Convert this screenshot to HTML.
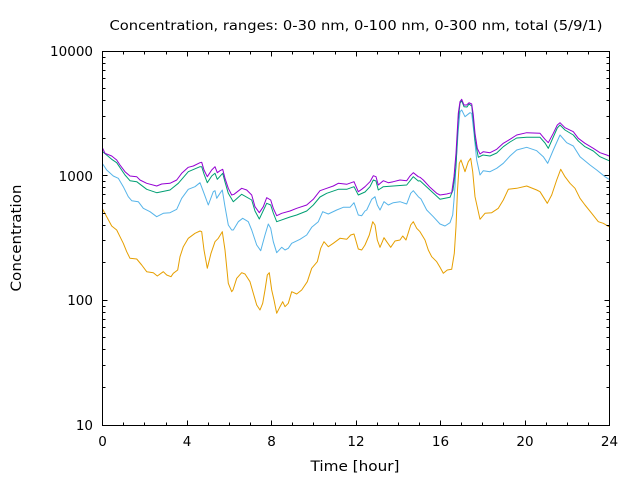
<!DOCTYPE html>
<html><head><meta charset="utf-8"><style>
html,body{margin:0;padding:0;background:#fff;}
svg{display:block;}
text{font-family:"DejaVu Sans","Liberation Sans",sans-serif;fill:#000;}
</style></head><body>
<svg width="640" height="480" viewBox="0 0 640 480" xmlns="http://www.w3.org/2000/svg">
<rect width="640" height="480" fill="#fff"/>
<text x="356" y="30" font-size="13" text-anchor="middle" textLength="493" lengthAdjust="spacingAndGlyphs">Concentration, ranges: 0-30 nm, 0-100 nm, 0-300 nm, total (5/9/1)</text>
<g fill="none" stroke-width="1" stroke-linejoin="round">
<polyline stroke="#e69f00" points="102.7,209.3 106.7,216.7 111.7,226 116.7,230 120,236.7 123.3,243.3 126.7,251.7 130,258.3 136.7,259 141.7,265 146.7,271.7 153.3,272.7 157.3,276 163.3,271.7 166.7,275 171,276.7 173.3,273.3 177.7,270 180,256.7 183.3,246.7 188.3,238.3 195,233.3 200,231 201.7,231.7 204,250 207.3,268.3 211,253.3 215,241.7 218.3,238.3 222.3,231.7 225,250 228.3,283.3 231.7,291.7 233,290 236.7,278.3 241.7,272.7 245,274 250,281.7 253.3,293.3 256.7,305 260,310 262.7,303.3 265,290 267.3,275 269.3,272.7 271.7,290 274,300 276.7,313.3 280,306.7 282.7,301.7 285,306.7 288.3,303.3 291.7,291.7 296.7,294 301.7,290 307.3,281.7 311.7,268.3 317.3,261.7 320.7,248.3 324,241.7 328.3,246.7 333.3,243.3 340,238.3 346.7,239.3 350.7,235 354,234 358.3,249 361.7,250 365,245 369.3,235 372.7,221.7 375,225 377.3,240 380,247.3 384,237.7 386.7,241.7 390.7,247.3 395,241 400,240 402.7,236 406,240 410.7,225 413.3,221.7 416.7,228.3 420,231.7 425,240 428.3,250 431.7,256.7 436.7,261.7 440,267.3 443.3,273.3 447.3,270 451.7,269.3 454.3,253.3 456,226.7 457.5,190 459.3,163.3 461,160 465,171.7 468.3,161.7 470.7,158.3 472.7,171.7 475,196.7 480,219.3 485,213.3 491.7,212.7 498.3,208.3 503.3,200 508.3,189.3 516.7,188.3 526.7,186 536.7,190 540,191.7 547.3,203.3 551.7,195 556.7,180 560.7,169.3 565,176.7 570,183.3 575,188.3 580,198.3 585,205 591.7,213.3 598.3,221.7 603.3,223.3 609,226.7"/>
<polyline stroke="#56b4e9" points="102.7,164 106.7,170 113.3,176 118.3,178.3 123.3,186.7 128.3,196.7 131.7,200.7 138.3,201.7 143.3,208.3 150,211.7 156.7,216.7 163.3,213.3 170,212.7 176.7,209.3 181.7,198.3 188.3,189.3 195,186.7 200,182.7 204,193.3 208.3,205 213.3,191.7 215,190.7 216.7,198.3 220,193.3 222.3,190 225,206.7 228.3,225 231.7,230 233.3,230 238.3,221.7 242.7,218.3 248.3,221.7 251.7,230 256.7,245 260.7,250.7 265,235 268.3,224 270.7,228.3 273.3,241.7 276.7,252.7 281.7,247.3 285,250 288.3,248.3 291.7,243.3 300,239.3 306.7,235 311.7,227.3 318.3,221.7 322.7,211.7 328.3,214 336.7,210 343.3,207.3 350,207.3 354,202.7 358.3,215 361.7,215.7 365,211 366.7,210 371.7,199.3 375,196.7 377.3,205 380,210 384,201.7 388.3,205 393.3,202.7 400,201.7 406.7,204 410.7,193.3 413.3,190.7 418.3,196.7 421,199 426.7,210 433.3,216.7 440,224 445,226 450,222.7 452.7,215 454,200 455,186.7 456,163.3 458.3,130 460,111.7 461.7,110 465,116.7 470,112.7 471.7,113.3 474,133.3 476.7,160 480,175 483.3,170.7 490,171.7 496.7,168.3 503.3,163.3 510,156 516.7,150 526.7,147.3 536.7,150.7 543.3,156.7 547.7,163.3 553.3,150 560,135 566.7,142.7 573.3,146 580,156.7 590,165 596.7,170 605,176.7 609,179.3"/>
<polyline stroke="#009e73" points="102.7,151.7 111.7,159.3 116.7,162.7 125,175 130,180.7 136.7,181.7 146.7,189.3 156.7,192.7 170,190 178.3,183.3 188.3,171.7 200,166.7 201.7,166.7 204,174 207.3,182.7 211.7,176 215,173.3 217.3,179.3 222.7,173.3 225,182 228.3,193.3 233.3,201.7 241.7,194.3 251.7,200 255,211 259.3,219 266.7,203.3 270.7,205 273.3,213 276.7,221.7 290,217 296.7,215 306.7,211 313.3,205 320,197 326.7,193.3 338.3,189.3 346.7,189.3 354,186.7 358.3,195 365,192 370,186.7 373.3,180 376,181 378.3,190 383.3,186.7 393.3,186 406.7,185 413.3,176.7 418.3,181 420,180.7 430,190 440,199.3 450,197.3 453,190 456,166.7 458.3,120 460,103.3 461.7,100.7 464,106.7 467,107 469,104 471.7,106 473.3,120 475,140 478.3,157.3 483,155 490,156 496.7,153 503.3,146.7 510,142 516.7,138 526.7,137.3 540,137.3 545,143 548.3,148.3 553.3,137 557.3,128 560,125 565,130 573.3,135 578.3,141 585,146.7 593.3,151 600,156.7 609,160.7"/>
<polyline stroke="#9400d3" points="102.7,148.3 105,153.3 111.7,156 116.7,160 120,165 125,171.7 130,176 136.7,176.7 140,180 146.7,183.3 156.7,186 161.7,184 170,183.3 176.7,180 181.7,173.3 188.3,167.3 193.3,166 200,162.7 201.7,162.3 204,170 207.3,176.7 211.7,170 215,166.7 217.3,172.7 220,170.7 222.7,169.3 225,178.3 228.3,188.3 231.7,195 234,194.3 241.7,188.3 246.7,190 251.7,195 255,206.7 259.3,212.7 263.3,206.7 266.7,197.7 270.7,200 273.3,208.3 276.7,215.7 281.7,213.3 290,211 296.7,208.3 306.7,205 313.3,199.3 320,190.7 326.7,188.3 333.3,186 338.3,183.3 346.7,184.3 354,181.7 358.3,191.7 361.7,189.3 365,186.7 370,181.7 373.3,175.7 376,176.7 378.3,185 383.3,180.7 388.3,182.7 393.3,181.7 400,180 406.7,180.7 410,176 413.3,172.7 418.3,176.7 420,177.3 423.3,180 430,187.3 436.7,193.3 440,195 446.7,194 451.7,192.7 454,176.7 456,153.3 458.3,113.3 460,101.7 461.7,99.3 464,105 466.7,105 469,102.7 471.7,104 473.3,115 475,133.3 477.3,148.3 480,154 483.3,151.7 490,152.7 496.7,149.3 503.3,143.3 510,139.3 516.7,135 526.7,132.7 540,133.3 545,139.3 548.3,142.7 553.3,133.3 557.3,125 560,122.7 565,127.7 573.3,131.7 578.3,138.3 585,143.3 593.3,148.3 600,152.7 606.7,155 609,156"/>
</g>
<g stroke="#000" stroke-width="1" fill="none">
<rect x="102.5" y="51.5" width="507" height="374"/>
<path d="M187.5,425.5v-5M271.5,425.5v-5M356.5,425.5v-5M440.5,425.5v-5M525.5,425.5v-5
M187.5,51.5v5M271.5,51.5v5M356.5,51.5v5M440.5,51.5v5M525.5,51.5v5
M123.5,425.5v-3M144.5,425.5v-3M166.5,425.5v-3M208.5,425.5v-3M229.5,425.5v-3M250.5,425.5v-3M292.5,425.5v-3M313.5,425.5v-3M335.5,425.5v-3M377.5,425.5v-3M398.5,425.5v-3M419.5,425.5v-3M461.5,425.5v-3M482.5,425.5v-3M503.5,425.5v-3M546.5,425.5v-3M567.5,425.5v-3M588.5,425.5v-3
M123.5,51.5v3M144.5,51.5v3M166.5,51.5v3M208.5,51.5v3M229.5,51.5v3M250.5,51.5v3M292.5,51.5v3M313.5,51.5v3M335.5,51.5v3M377.5,51.5v3M398.5,51.5v3M419.5,51.5v3M461.5,51.5v3M482.5,51.5v3M503.5,51.5v3M546.5,51.5v3M567.5,51.5v3M588.5,51.5v3
M102.5,300.5h5M102.5,175.5h5M609.5,300.5h-5M609.5,175.5h-5
M102.5,387.5h3M102.5,365.5h3M102.5,349.5h3M102.5,337.5h3M102.5,327.5h3M102.5,319.5h3M102.5,312.5h3M102.5,306.5h3
M102.5,262.5h3M102.5,240.5h3M102.5,225.5h3M102.5,213.5h3M102.5,203.5h3M102.5,194.5h3M102.5,187.5h3M102.5,181.5h3
M102.5,138.5h3M102.5,116.5h3M102.5,100.5h3M102.5,88.5h3M102.5,78.5h3M102.5,70.5h3M102.5,63.5h3M102.5,57.5h3
M609.5,387.5h-3M609.5,365.5h-3M609.5,349.5h-3M609.5,337.5h-3M609.5,327.5h-3M609.5,319.5h-3M609.5,312.5h-3M609.5,306.5h-3
M609.5,262.5h-3M609.5,240.5h-3M609.5,225.5h-3M609.5,213.5h-3M609.5,203.5h-3M609.5,194.5h-3M609.5,187.5h-3M609.5,181.5h-3
M609.5,138.5h-3M609.5,116.5h-3M609.5,100.5h-3M609.5,88.5h-3M609.5,78.5h-3M609.5,70.5h-3M609.5,63.5h-3M609.5,57.5h-3"/>
</g>
<g font-size="13.5" text-anchor="end">
<text x="93" y="56">10000</text>
<text x="93" y="181">1000</text>
<text x="93" y="305">100</text>
<text x="93" y="430">10</text>
</g>
<g font-size="13.5" text-anchor="middle">
<text x="102.5" y="446">0</text>
<text x="187" y="446">4</text>
<text x="271.5" y="446">8</text>
<text x="356" y="446">12</text>
<text x="440.5" y="446">16</text>
<text x="525" y="446">20</text>
<text x="609.5" y="446">24</text>
</g>
<text x="355" y="471" font-size="14" text-anchor="middle" textLength="89" lengthAdjust="spacingAndGlyphs">Time [hour]</text>
<text transform="translate(21,238) rotate(-90)" font-size="14" text-anchor="middle" textLength="107" lengthAdjust="spacingAndGlyphs">Concentration</text>
</svg>
</body></html>
